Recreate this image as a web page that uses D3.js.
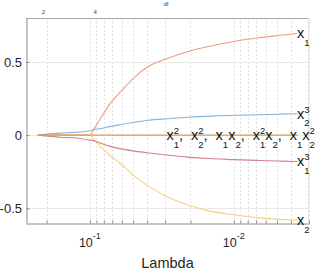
<!DOCTYPE html>
<html><head><meta charset="utf-8">
<script src="https://cdn.jsdelivr.net/npm/d3@7"></script>
<style>
body{margin:0;background:#fff}
svg{display:block}
text{font-family:"Liberation Sans",Arial,Helvetica,sans-serif}
</style>
</head><body><script>
// ---- data ----
const lambda   = [0.23,0.16,0.125,0.1,0.092,0.085,0.073,0.062,0.049,0.039,0.029,0.021,0.015,0.010,0.0067,0.0049,0.0036];
const coefX1   = [0,0,0,0,0.054,0.109,0.21,0.29,0.395,0.47,0.524,0.57,0.605,0.64,0.665,0.68,0.694];
const coefX2   = [0,0,0,0,-0.04,-0.075,-0.136,-0.19,-0.28,-0.35,-0.42,-0.476,-0.517,-0.544,-0.565,-0.575,-0.58];
const coefX2c  = [0,0.014,0.02,0.03,0.04,0.044,0.058,0.071,0.088,0.102,0.112,0.122,0.129,0.136,0.139,0.143,0.146];
const coefX1c  = [0,-0.014,-0.02,-0.034,-0.04,-0.054,-0.075,-0.092,-0.109,-0.122,-0.136,-0.15,-0.16,-0.167,-0.173,-0.177,-0.18];
const coefZero = [0,0,0,0,0,0,0,0,0,0,0,0,0,0,0,0,0];
const seriesNames  = ["x_1","x_2","x_2^3","x_1^3","x_1^2, x_2^2, x_1x_2, x_1^2x_2, x_1x_2^2"];
const seriesColors = ["#EE9B7E","#F6D27C","#7FB5DF","#D3808F","#D4A24E"];
const dfLabels  = ["2","4"];
const dfLambda  = [0.21,0.092];
const yTicks    = [-0.5,0,0.5];
const xLabelTicks = [0.1,0.01];
const xTitle = "Lambda", topTitle = "df";

const series = [coefX1, coefX2, coefX2c, coefX1c, coefZero];

const W=316,H=273;
const L=26,R=309,T=18,B=223;
const x = d3.scaleLog().domain([0.278,0.003]).range([L,R]);
const y = d3.scaleLinear().domain([-0.6,0.8]).range([B,T]);

const svg = d3.select("body").append("svg").attr("width",W).attr("height",H);

// grid
svg.append("g").selectAll("line").data(x.ticks()).join("line")
  .attr("x1",d=>Math.round(x(d))+0.5).attr("x2",d=>Math.round(x(d))+0.5)
  .attr("y1",T).attr("y2",B)
  .attr("stroke","#e2e2e2").attr("stroke-dasharray","2,2").attr("stroke-width",1);
svg.append("g").selectAll("line").data(yTicks).join("line")
  .attr("x1",L).attr("x2",R)
  .attr("y1",d=>Math.round(y(d))+0.5).attr("y2",d=>Math.round(y(d))+0.5)
  .attr("stroke","#e8e8e8");

// box
svg.append("line").attr("x1",L).attr("x2",R).attr("y1",T+0.5).attr("y2",T+0.5).attr("stroke","#a8a8a8");
svg.append("line").attr("x1",R-0.5).attr("x2",R-0.5).attr("y1",T).attr("y2",B).attr("stroke","#e4e4e4");

// axes
const xAxis = svg.append("g").attr("transform",`translate(0,${B+0.5})`)
  .call(d3.axisBottom(x).tickValues(x.ticks()).tickSizeInner(-3).tickSizeOuter(0).tickFormat(""));
xAxis.select(".domain").attr("stroke","#8c8c8c");
xAxis.selectAll(".tick line").attr("stroke","#8c8c8c");
const yAxis = svg.append("g").attr("transform",`translate(${L+0.5},0)`)
  .call(d3.axisLeft(y).tickValues(yTicks).tickSizeInner(-3).tickSizeOuter(0).tickFormat(""));
yAxis.select(".domain").attr("stroke","#8c8c8c");
yAxis.selectAll(".tick line").attr("stroke","#8c8c8c");

// y tick labels
svg.append("g").selectAll("text").data(yTicks).join("text")
  .attr("x",22).attr("y",d=>y(d)+4.6).attr("text-anchor","end")
  .attr("font-size",13).attr("fill","#262626")
  .text(d=>d===0?"0":String(d));

// x tick labels 10^k
xLabelTicks.forEach(v=>{
  const e = Math.round(Math.log10(v));
  const t = svg.append("text").attr("x",x(v)).attr("y",247).attr("text-anchor","middle")
    .attr("fill","#262626").attr("font-size",12.5);
  t.append("tspan").text("10");
  t.append("tspan").attr("font-size",9).attr("dy",-8).text(String(e));
});

// x title
svg.append("text").attr("x",(L+R)/2).attr("y",268).attr("text-anchor","middle")
  .attr("font-size",14.5).attr("fill","#262626").text(xTitle);

// top df axis
svg.append("g").selectAll("text").data(dfLabels).join("text")
  .attr("x",(d,i)=>x(dfLambda[i])).attr("y",14).attr("text-anchor","middle")
  .attr("font-size",6).attr("fill","#444").text(d=>d);
svg.append("text").attr("x",166).attr("y",6).attr("text-anchor","middle")
  .attr("font-size",6).attr("fill","#444").text(topTitle);

// lines
const line = d3.line().x((d,i)=>x(lambda[i])).y(d=>y(d)).curve(d3.curveMonotoneX);
series.forEach((s,i)=>{
  svg.append("path").datum(s).attr("d",line).attr("fill","none")
    .attr("stroke",seriesColors[i]).attr("stroke-width",1.1);
});

// tex-like labels
function texLabel(x0,yc,str){
  const fs=14.5, sfs=9.5;
  const g=svg.append("g");
  let cx=x0;
  const base=yc+4.8;
  const re=/([^_^])(?:_(.))?(?:\^(.))?/g;
  let m;
  while((m=re.exec(str))!==null){
    const ch=m[1];
    if(ch===" "){cx+=fs*0.55;continue;}
    const t=g.append("text").attr("x",cx).attr("y",base).attr("font-size",fs).attr("fill","#111").text(ch);
    cx+=t.node().getComputedTextLength();
    let w=0;
    if(m[2]){const s=g.append("text").attr("x",cx).attr("y",base+7.8).attr("font-size",sfs).attr("fill","#111").text(m[2]);w=Math.max(w,s.node().getComputedTextLength());}
    if(m[3]){const s=g.append("text").attr("x",cx).attr("y",base-6).attr("font-size",sfs).attr("fill","#111").text(m[3]);w=Math.max(w,s.node().getComputedTextLength());}
    cx+=w;
  }
}
const last=lambda.length-1;
series.forEach((s,i)=>{
  if(i===4) texLabel(166.5, y(s[last]), seriesNames[i]);
  else texLabel(x(lambda[last])-0.5, y(s[last]), seriesNames[i]);
});
</script></body></html>
